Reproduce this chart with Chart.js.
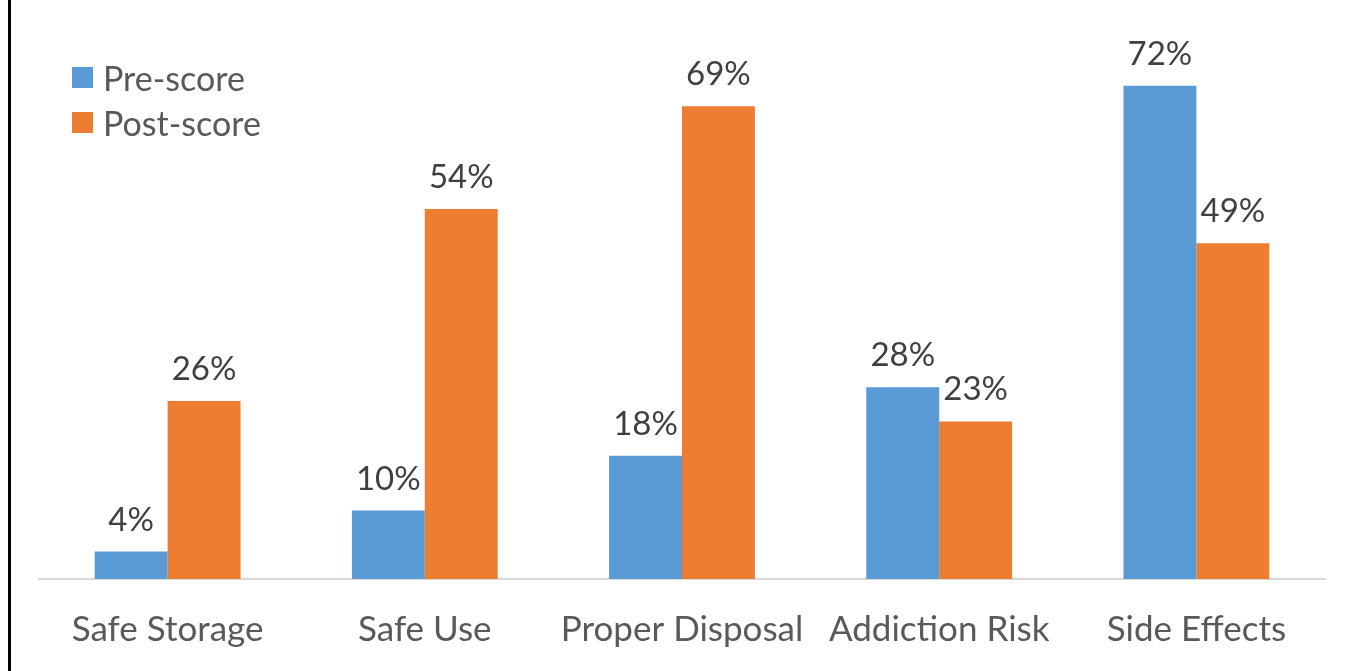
<!DOCTYPE html>
<html>
<head>
<meta charset="utf-8">
<script src="https://cdn.jsdelivr.net/npm/chart.js@4"></script>
<style>
  html, body { margin: 0; padding: 0; background: #fff; }
  #wrap { position: relative; width: 1352px; height: 671px; }
  #frame { position: absolute; left: 8px; top: 0; width: 3px; height: 671px; background: #000; }
  #legend { position: absolute; left: 72px; top: 55px; font-family: Lato, sans-serif; font-size: 34px; color: #595959; }
  .item { display: flex; align-items: center; height: 45px; }
  .sw { width: 21px; height: 21px; margin-right: 10px; }
</style>
</head>
<body>
<div id="wrap">
  <canvas id="chart" width="1352" height="671"></canvas>
  <div id="frame"></div>
  <div id="legend"></div>
</div>
<script>
// DATA
const categories = ["Safe Storage", "Safe Use", "Proper Disposal", "Addiction Risk", "Side Effects"];
const preScore  = [4, 10, 18, 28, 72];
const postScore = [26, 54, 69, 23, 49];
const seriesNames = ["Pre-score", "Post-score"];
const colors = ["#5b9bd5", "#ed7d31"];

// LEGEND (html, sits inside the plot like the original)
const legend = document.getElementById("legend");
seriesNames.forEach((name, i) => {
  legend.innerHTML += `<div class="item"><span class="sw" style="background:${colors[i]}"></span>${name}</div>`;
});

// value labels above each bar
const valueLabels = {
  id: "valueLabels",
  afterDatasetsDraw(chart) {
    const c = chart.ctx;
    c.save();
    c.font = "33px Lato, sans-serif";
    c.fillStyle = "#404040";
    c.textAlign = "center";
    c.textBaseline = "alphabetic";
    chart.data.datasets.forEach((ds, i) => {
      chart.getDatasetMeta(i).data.forEach((bar, j) => {
        c.fillText(ds.data[j] + "%", bar.x, bar.y - 21);
      });
    });
    c.restore();
  }
};

new Chart(document.getElementById("chart"), {
  type: "bar",
  data: {
    labels: categories,
    datasets: [
      { label: seriesNames[0], data: preScore,  backgroundColor: colors[0] },
      { label: seriesNames[1], data: postScore, backgroundColor: colors[1] }
    ]
  },
  options: {
    responsive: false,
    animation: false,
    layout: { padding: { left: 39, right: 27, top: 31, bottom: 0 } },
    datasets: { bar: { categoryPercentage: 0.567, barPercentage: 1 } },
    plugins: { legend: { display: false }, tooltip: { enabled: false } },
    scales: {
      x: {
        grid: { display: false },
        border: { display: true, color: "#d9d9d9", width: 2 },
        ticks: { color: "#595959", font: { family: "Lato, sans-serif", size: 35 }, padding: 22, maxRotation: 0 },
        afterFit: s => { s.height = 92; }
      },
      y: { display: false, min: 0, max: 80 }
    }
  },
  plugins: [valueLabels]
});
</script>
</body>
</html>
